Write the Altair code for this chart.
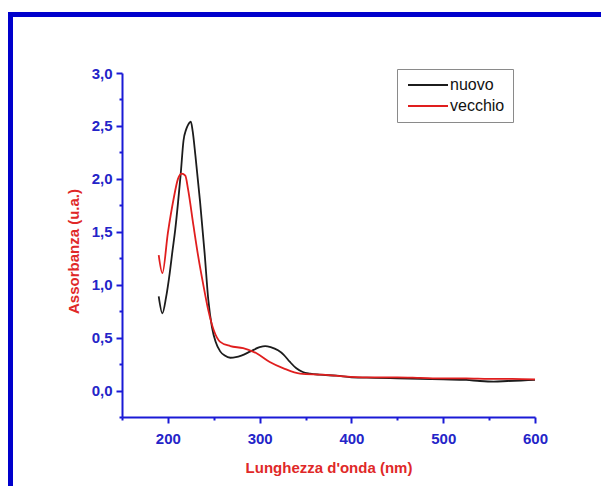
import altair as alt
import pandas as pd

# nuovo (black)
nuovo_wl = [190, 194, 198, 202, 205, 208, 211, 214, 217, 220, 222, 225, 227, 230, 235, 240,
            244, 248, 252, 257, 262, 268, 274, 280, 290, 300, 306, 312, 320, 326, 333, 340,
            347, 355, 365, 384, 400, 425, 450, 475, 500, 525, 540, 555, 570, 585, 600]
nuovo_abs = [0.89, 0.73, 0.88, 1.11, 1.32, 1.52, 1.77, 2.05, 2.36, 2.47, 2.51, 2.54, 2.45, 2.22, 1.79, 1.30,
             0.86, 0.60, 0.46, 0.37, 0.33, 0.31, 0.315, 0.33, 0.37, 0.41, 0.42, 0.41, 0.38, 0.34, 0.27, 0.21,
             0.175, 0.16, 0.15, 0.14, 0.125, 0.12, 0.115, 0.11, 0.105, 0.10, 0.09, 0.085, 0.09, 0.095, 0.10]

# vecchio (red)
vecchio_wl = [190, 194, 200, 206, 211, 215, 219, 222, 228, 233, 239, 244, 250, 257, 268, 282,
              297, 311, 326, 344, 369, 399, 425, 450, 475, 500, 525, 550, 575, 600]
vecchio_abs = [1.28, 1.11, 1.49, 1.80, 2.00, 2.05, 2.03, 1.90, 1.55, 1.27, 0.98, 0.76, 0.57, 0.46, 0.42, 0.40,
               0.35, 0.27, 0.21, 0.16, 0.15, 0.13, 0.125, 0.125, 0.12, 0.115, 0.115, 0.11, 0.11, 0.105]

series_names = ["nuovo", "vecchio"]
series_colors = ["#1c1c1c", "#e01e1e"]

x_ticks = [150, 200, 250, 300, 350, 400, 450, 500, 550, 600]
y_ticks = [-0.25, 0, 0.25, 0.5, 0.75, 1.0, 1.25, 1.5, 1.75, 2.0, 2.25, 2.5, 2.75, 3.0]

df = pd.concat([
    pd.DataFrame({"wl": nuovo_wl, "a": nuovo_abs, "serie": "nuovo"}),
    pd.DataFrame({"wl": vecchio_wl, "a": vecchio_abs, "serie": "vecchio"}),
])

AXIS_BLUE = "#1a1ad6"
LABEL_BLUE = "#2424c8"
TITLE_RED = "#e02828"
FONT = "Liberation Sans"

major_x = "datum.value % 100 == 0"
major_y = "abs(datum.value*2 - round(datum.value*2)) < 0.001"

x_axis = alt.Axis(
    values=x_ticks, title="Lunghezza d'onda (nm)", grid=False,
    labelExpr=f"{major_x} ? datum.label : ''",
    tickSize={"condition": {"test": major_x, "value": 6}, "value": 3},
    domainColor=AXIS_BLUE, domainWidth=2, tickColor=AXIS_BLUE, tickWidth=2,
    labelColor=LABEL_BLUE, labelFont=FONT, labelFontSize=15, labelFontWeight="bold",
    labelPadding=8, labelFlush=False, labelOverlap=False,
    titleColor=TITLE_RED, titleFont=FONT, titleFontSize=15, titleFontWeight="bold",
    titlePadding=14,
)
y_axis = alt.Axis(
    values=y_ticks, title="Assorbanza (u.a.)", grid=False,
    labelExpr=f"{major_y} ? replace(format(datum.value, '.1f'), '.', ',') : ''",
    tickSize={"condition": {"test": major_y, "value": 6}, "value": 3},
    domainColor=AXIS_BLUE, domainWidth=2, tickColor=AXIS_BLUE, tickWidth=2,
    labelColor=LABEL_BLUE, labelFont=FONT, labelFontSize=15, labelFontWeight="bold",
    labelPadding=4, labelFlush=False, labelOverlap=False,
    titleColor=TITLE_RED, titleFont=FONT, titleFontSize=15, titleFontWeight="bold",
    titlePadding=10, titleY=178,
)

lines = alt.Chart(df).mark_line(strokeWidth=1.8, interpolate="monotone").encode(
    x=alt.X("wl:Q", scale=alt.Scale(domain=[150, 600], nice=False, zero=False), axis=x_axis),
    y=alt.Y("a:Q", scale=alt.Scale(domain=[-0.25, 3.0], nice=False, zero=False), axis=y_axis),
    color=alt.Color("serie:N", scale=alt.Scale(domain=series_names, range=series_colors),
                    legend=alt.Legend(
                        title=None, orient="none", legendX=275, legendY=-4,
                        symbolType="M-1,0L7,0", symbolSize=100, symbolStrokeWidth=2,
                        labelOffset=29, labelFont=FONT, labelFontSize=16, labelColor="#111",
                        padding=8, rowPadding=5, strokeColor="#8a8a8a", fillColor="white",
                    )),
)

one = pd.DataFrame({"k": [0]})
frame_left = alt.Chart(one).mark_rule(color="#0000cc", size=5).encode(
    x=alt.value(-111.5), y=alt.value(-61), y2=alt.value(413))
frame_top = alt.Chart(one).mark_rule(color="#0000cc", size=5).encode(
    y=alt.value(-58.5), x=alt.value(-114), x2=alt.value(479))

chart = alt.layer(lines, frame_left, frame_top).properties(
    width=413, height=344,
    autosize="none",
    background="white",
    padding={"left": 114, "top": 65, "right": 66, "bottom": 69},
).configure_view(stroke=None, strokeWidth=0)

chart.save("out.html", embed_options={"renderer": "svg", "actions": False})
